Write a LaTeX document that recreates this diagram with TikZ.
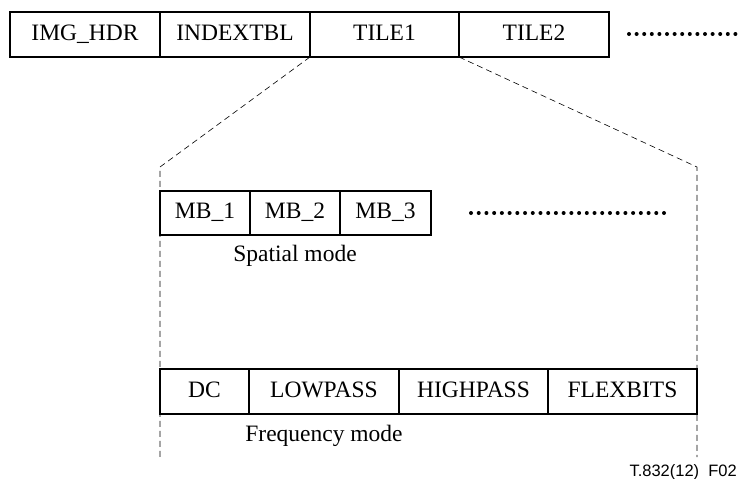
\documentclass[tikz,border=0pt]{standalone}
\usepackage{fontspec}
\setmainfont{Liberation Serif}
\newfontfamily\tagfont{Liberation Sans}
\usetikzlibrary{positioning}

\begin{document}
\begin{tikzpicture}[x=1pt,y=-1pt,
				cell/.style = {draw, line width=1.2pt, outer sep=0pt, inner sep=0pt,
					text height=15.5pt, text depth=4pt,
					font=\fontsize{23.5}{27}\selectfont},
				caption/.style = {inner sep=0pt, text height=15.5pt, text depth=5pt,
					font=\fontsize{23.5}{27}\selectfont},
				zoomline/.style = {line width=0.6pt, dash pattern=on 6pt off 4pt}]
				
				\useasboundingbox (0,0) rectangle (739,479);
				
				% Codestream
				\node[cell, minimum width=150pt, minimum height=45pt, anchor=north west] (hdr) at (10,12) {IMG\_HDR};
				\node[cell, minimum width=150pt, minimum height=45pt, right=0pt of hdr] (idx) {INDEXTBL};
				\node[cell, minimum width=149pt, minimum height=45pt, right=0pt of idx] (tile1) {TILE1};
				\node[cell, minimum width=150pt, minimum height=45pt, right=0pt of tile1] (tile2) {TILE2};
				\foreach \i in {0,...,14}
					\fill (629+7.6*\i,34) circle (2pt);
				
				% Spatial mode
				\node[cell, minimum width=90pt, minimum height=44pt, anchor=north west] (mb1) at (160,191) {MB\_1};
				\node[cell, minimum width=90pt, minimum height=44pt, right=0pt of mb1] (mb2) {MB\_2};
				\node[cell, minimum width=91pt, minimum height=44pt, right=0pt of mb2] (mb3) {MB\_3};
				\foreach \i in {0,...,25}
					\fill (471+7.72*\i,213) circle (2pt);
				\node[caption, below=11pt of mb2] (spatial) {Spatial mode};
				
				% Frequency mode
				\node[cell, minimum width=89pt, minimum height=45pt, anchor=north west] (dc) at (160,369) {DC};
				\node[cell, minimum width=150pt, minimum height=45pt, right=0pt of dc] (low) {LOWPASS};
				\node[cell, minimum width=149pt, minimum height=45pt, right=0pt of low] (high) {HIGHPASS};
				\node[cell, minimum width=149pt, minimum height=45pt, right=0pt of high] (flex) {FLEXBITS};
				\node[caption, below=12pt of low] (freq) {Frequency mode};
				
				% Zoom lines
				\coordinate (lcorner) at (160,167);
				\coordinate (rcorner) at (697,167);
				\coordinate (lend) at (160,457);
				\coordinate (rend) at (697,457);
				\draw[zoomline] (tile1.south west) -- (lcorner) -- (lend);
				\draw[zoomline] (tile2.south west) -- (rcorner) -- (rend);
				
				\node[font=\tagfont\fontsize{16.5}{19}\selectfont, anchor=base east, inner sep=0pt] (figtag) at (737,476) {T.832(12)\ \ F02};
				
			\end{tikzpicture}
\end{document}
